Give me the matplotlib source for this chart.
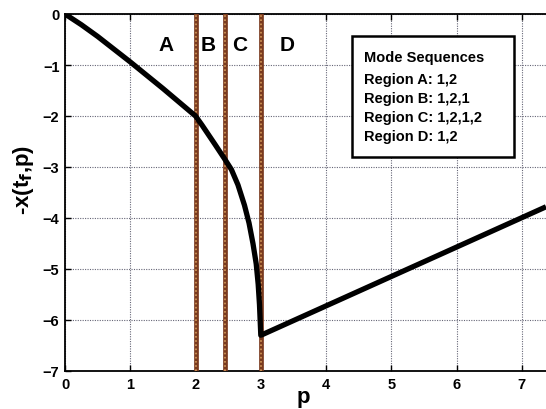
import matplotlib
matplotlib.use("Agg")
import matplotlib.pyplot as plt

plt.rcParams['font.family'] = ['Liberation Sans', 'DejaVu Sans']
plt.rcParams['font.weight'] = 'bold'

# Cost curve -x(t_f, p) versus parameter p
p_vals = [0.0, 0.25, 0.5, 0.75, 1.0, 1.25, 1.5, 1.75, 2.0,
          2.1, 2.2, 2.3, 2.45,
          2.55, 2.65, 2.75, 2.82, 2.88, 2.93, 2.96, 2.98, 2.99, 3.0,
          7.37]
x_vals = [0.0, -0.21, -0.44, -0.69, -0.94, -1.2, -1.46, -1.73, -2.0,
          -2.18, -2.37, -2.56, -2.85,
          -3.05, -3.35, -3.75, -4.1, -4.5, -4.9, -5.3, -5.7, -6.0, -6.3,
          -3.78]

# Region boundaries and labels
boundaries = [2.0, 2.45, 3.0]
region_names = ['A', 'B', 'C', 'D']
region_label_x = [1.55, 2.2, 2.68, 3.4]

legend_title = 'Mode Sequences'
legend_lines = ['Region A: 1,2', 'Region B: 1,2,1', 'Region C: 1,2,1,2', 'Region D: 1,2']

xticks = [0, 1, 2, 3, 4, 5, 6, 7]
yticks = [0, -1, -2, -3, -4, -5, -6, -7]

fig = plt.figure(figsize=(5.46, 4.10), dpi=100)
ax = fig.add_axes([65 / 546, 1 - 372 / 410, (546 - 65) / 546, (372 - 15) / 410])

ax.set_xlim(0, 7.37)
ax.set_ylim(-7, 0)
ax.set_xticks(xticks)
ax.set_yticks(yticks)
ax.set_xticklabels([str(t) for t in xticks], fontsize=10.5, fontweight='bold')
ax.set_yticklabels(['\u2212%d' % -t if t else '0' for t in yticks], fontsize=10.5, fontweight='bold')
ax.tick_params(direction='in', top=True, right=False, length=4, width=1, pad=4)
ax.grid(True, color='#666677', linestyle=(0, (1, 1.2)), linewidth=0.8)
for side in ['left', 'bottom', 'top']:
    ax.spines[side].set_linewidth(1.3)
ax.spines['right'].set_visible(False)

for b in boundaries:
    ax.axvline(b, color='#7a3a1e', linewidth=3.4, zorder=3)
    ax.axvline(b, color='#d49a5a', linewidth=1.2, linestyle=(0, (1, 1.5)), zorder=3)

ax.plot(p_vals, x_vals, color='black', linewidth=3.8, zorder=4, solid_capstyle='butt')

for name, lx in zip(region_names, region_label_x):
    ax.text(lx, -0.6, name, fontsize=15, fontweight='bold', ha='center', va='center')

# Mode sequence box
box_left, box_bottom, box_w, box_h = 4.4, -2.81, 2.48, 2.38
ax.add_patch(plt.Rectangle((box_left, box_bottom), box_w, box_h, facecolor='white',
                           edgecolor='black', linewidth=1.8, zorder=5))
ax.text(box_left + 0.18, -0.85, legend_title, fontsize=10.5, fontweight='bold', va='center', zorder=6)
for i, line in enumerate(legend_lines):
    ax.text(box_left + 0.18, -1.27 - 0.375 * i, line, fontsize=10.5, fontweight='bold',
            va='center', zorder=6)

ax.set_xlabel('p', fontsize=16, fontweight='bold')
ax.xaxis.label.set_verticalalignment('baseline')
ax.xaxis.set_label_coords((303 - 65) / 481, -(403 - 372) / 357)
ax.set_ylabel(r'-x(t$_\mathbf{f}$,p)', fontsize=16, fontweight='bold')
ax.yaxis.set_label_coords(-(65 - 36) / 481, (372 - 180) / 357)

fig.savefig('out.png', dpi=100)
